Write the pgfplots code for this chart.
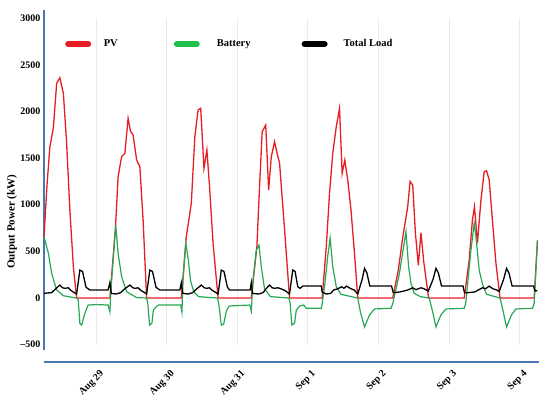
\documentclass[border=0pt]{standalone}
\usepackage{fontspec}
\setmainfont{Liberation Serif}
\usepackage{pgfplots}
\pgfplotsset{compat=1.18}
\definecolor{pvred}{RGB}{230,30,36}
\definecolor{batgreen}{RGB}{38,168,84}
\definecolor{leggreen}{RGB}{34,192,76}
\definecolor{spine}{RGB}{74,120,178}
\begin{document}
\begin{tikzpicture}
\begin{axis}[
  scale only axis, width=494pt, height=340.6pt,
  xmin=0, xmax=168, ymin=-560, ymax=3090,
  axis lines*=left,
  x axis line style={draw=none},
  y axis line style={spine, line width=1.4pt, -},
  xtick={17.7,41.7,65.7,89.7,113.7,137.7,161.7},
  xticklabels={Aug 29,Aug 30,Aug 31,Sep 1,Sep 2,Sep 3,Sep 4},
  ytick={-500,0,500,1000,1500,2000,2500,3000},
  yticklabels={–500,0,500,1000,1500,2000,2500,3000},
  major tick length=0pt,
  tick style={draw=none},
  yticklabel style={font=\fontsize{10}{12}\selectfont\bfseries},
  xticklabel style={font=\fontsize{10}{12}\selectfont\bfseries, xshift=3.3pt, yshift=-14.2pt, rotate=45, anchor=north east},
  ylabel={Output Power (kW)},
  every axis y label/.style={at={(axis description cs:-0.0648,0.377)}, rotate=90, anchor=center,
    font=\fontsize{11}{13}\selectfont\bfseries},
  clip=false,
  legend style={draw=none, fill=none, inner sep=0pt, at={(axis description cs:0.0425,0.899)}, anchor=west,
    font=\fontsize{10.5}{12}\selectfont\bfseries,
    /tikz/column 1/.style={column sep=10.6pt},
    /tikz/column 2/.style={column sep=54pt},
    /tikz/column 3/.style={column sep=15pt},
    /tikz/column 4/.style={column sep=49pt},
    /tikz/column 5/.style={column sep=14pt}},
  legend columns=3,
  legend image code/.code={\draw[#1, line width=6pt, line cap=round] (3pt,0pt) -- (23pt,0pt);},
]
\addlegendimage{pvred}
\addlegendimage{leggreen}
\addlegendimage{black}
\pgfplotsinvokeforeach{17.7,41.7,65.7,89.7,113.7,137.7,161.7}{
  \draw[black!8, line width=0.6pt] (axis cs:#1,-500) -- (axis cs:#1,3000);
}
\draw[spine, line width=1.6pt] (axis cs:0,-685) -- (axis cs:168.5,-685);

\addplot[pvred, line width=1.3pt, forget plot] coordinates {
(0,650)(1,1200)(2,1620)(3.2,1830)(4.3,2300)(5.4,2360)(6.6,2190)(7.7,1660)(8.8,940)(10,330)(11.1,0)
(22.4,0)(24.3,750)(25.2,1300)(26.4,1515)(27.5,1550)(28.6,1926)(29.4,1790)(30.3,1747)(31.5,1480)(32.6,1407)(33.7,836)(34.9,0)
(46.7,0)(48.4,657)(50.1,1015)(51.3,1729)(52.4,2015)(53.3,2033)(54.4,1390)(55.4,1586)(56.3,1193)(57.5,586)(59.2,0)
(70.5,0)(72.4,550)(73.3,1193)(74.2,1782)(75.4,1854)(76.4,1158)(77.3,1515)(78.4,1675)(79.5,1520)(80.1,1450)(81.8,740)(83.5,0)
(94.6,0)(96,550)(97.1,1122)(98.2,1550)(99.4,1836)(100.5,2033)(101.4,1336)(102.3,1479)(103.3,1265)(104.4,943)(105.6,479)(106.7,0)
(118.6,0)(120.5,300)(122,650)(123.7,980)(124.5,1250)(125.4,1210)(126.3,700)(127.3,350)(128.2,700)(129.1,400)(130.8,0)
(142.9,0)(144.6,407)(145.7,836)(146.4,979)(147.4,586)(148.6,1050)(149.7,1354)(150.5,1365)(151.4,1265)(152.5,836)(153.7,372)(155.1,0)
(166.7,0)(167.8,600)
};

\addplot[batgreen, line width=1.2pt, forget plot] coordinates {
(0,657)(1.5,479)(2.6,265)(4.3,86)(6.6,25)(10,5)(11.1,0)(11.65,-21)(12.2,-271)(12.8,-290)(13.9,-164)(15,-75)(17.9,-70)(21.8,-75)(22.4,-147)
(22.8,100)(24.4,782)(25.2,479)(26.4,230)(28.1,68)(31.5,5)(34.9,0)(35.3,-57)(35.9,-290)(36.7,-270)(37.2,-129)(38.3,-90)(39,-75)(46.5,-75)(46.9,-150)
(47.3,200)(48.2,590)(49.1,407)(49.8,193)(50.9,68)(52.6,15)(59,0)(59.5,-75)(60.3,-290)(61.1,-280)(62,-140)(63,-85)(70,-75)(70.5,-140)
(71.1,200)(72.2,514)(73.1,568)(73.9,336)(75,100)(77,15)(83.3,0)(83.7,-57)(84.3,-290)(85.2,-270)(85.8,-130)(86.3,-110)(87.1,-85)(88.3,-75)(89.2,-110)(94.3,-110)(94.6,-60)
(95.5,150)(96.5,450)(97.3,640)(98.2,336)(99.4,121)(101,40)(106.7,0)(107.6,-150)(109,-310)(110.7,-182)(112.4,-117)(118,-110)(118.6,-60)
(120.8,250)(123.1,711)(124,336)(124.8,157)(125.9,50)(128,15)(131,0)(132.2,-150)(133.3,-310)(135,-180)(136.7,-117)(142.9,-110)(143.4,-60)
(145.2,514)(146.3,800)(146.9,657)(148,300)(149.2,140)(150.5,40)(155.1,0)(156.2,-150)(157.3,-310)(159,-180)(160.5,-117)(166.1,-110)(166.7,-60)(167.8,620)
};

\addplot[black, line width=1.3pt, forget plot] coordinates {
(0,50)(1.5,55)(2.6,57)(4,100)(5.4,139)(6.3,110)(7.1,104)(8.3,110)(9,85)(10,64)(11.1,43)
(12.2,300)(13.1,285)(14.3,115)(15.6,86)(21.8,86)(22.4,164)(22.9,50)
(24.5,43)(26,57)(27.5,100)(29.2,139)(30.2,110)(31,104)(32,110)(32.8,85)(33.9,64)(34.9,43)
(36,300)(36.9,285)(38.1,115)(39.4,86)(46.2,86)(46.7,164)(47.2,50)
(49,43)(50.5,57)(52,100)(53.5,139)(54.5,110)(55.3,104)(56.3,110)(57.1,85)(58.2,64)(59.2,43)
(60.3,300)(61.2,285)(62.4,115)(63.1,86)(70.1,86)(70.5,164)(70.9,50)
(73,43)(74.5,57)(75.5,100)(76.7,139)(77.6,110)(78.5,104)(79.5,110)(80.5,100)(82,80)(83.5,43)
(84.6,300)(85.4,285)(86.3,121)(87.1,104)(88,128)(94.3,128)(94.6,64)
(96,43)(97.5,50)(98.5,86)(100,100)(101.2,121)(102,104)(102.9,128)(104.1,104)(105.5,86)(106.7,43)
(108.2,200)(109,318)(109.8,270)(110.8,128)(118.2,128)(118.8,57)
(121,65)(123.7,86)(125.4,110)(126.5,90)(128.2,110)(129.2,100)(130.7,75)
(132.3,200)(133.3,318)(134.1,270)(135.2,128)(142.5,128)(143,57)
(144,57)(146.5,65)(149.1,110)(150.2,100)(151.4,128)(152.6,100)(154,86)(154.8,70)
(156.3,200)(157.3,318)(158.1,270)(159.2,128)(166.5,128)(167,75)(167.8,80)
};
\legend{PV,Battery,Total Load}
\end{axis}
\pgfresetboundingbox
\path[use as bounding box] (-44pt,-52.7pt) rectangle (506pt,350.3pt);
\end{tikzpicture}
\end{document}
